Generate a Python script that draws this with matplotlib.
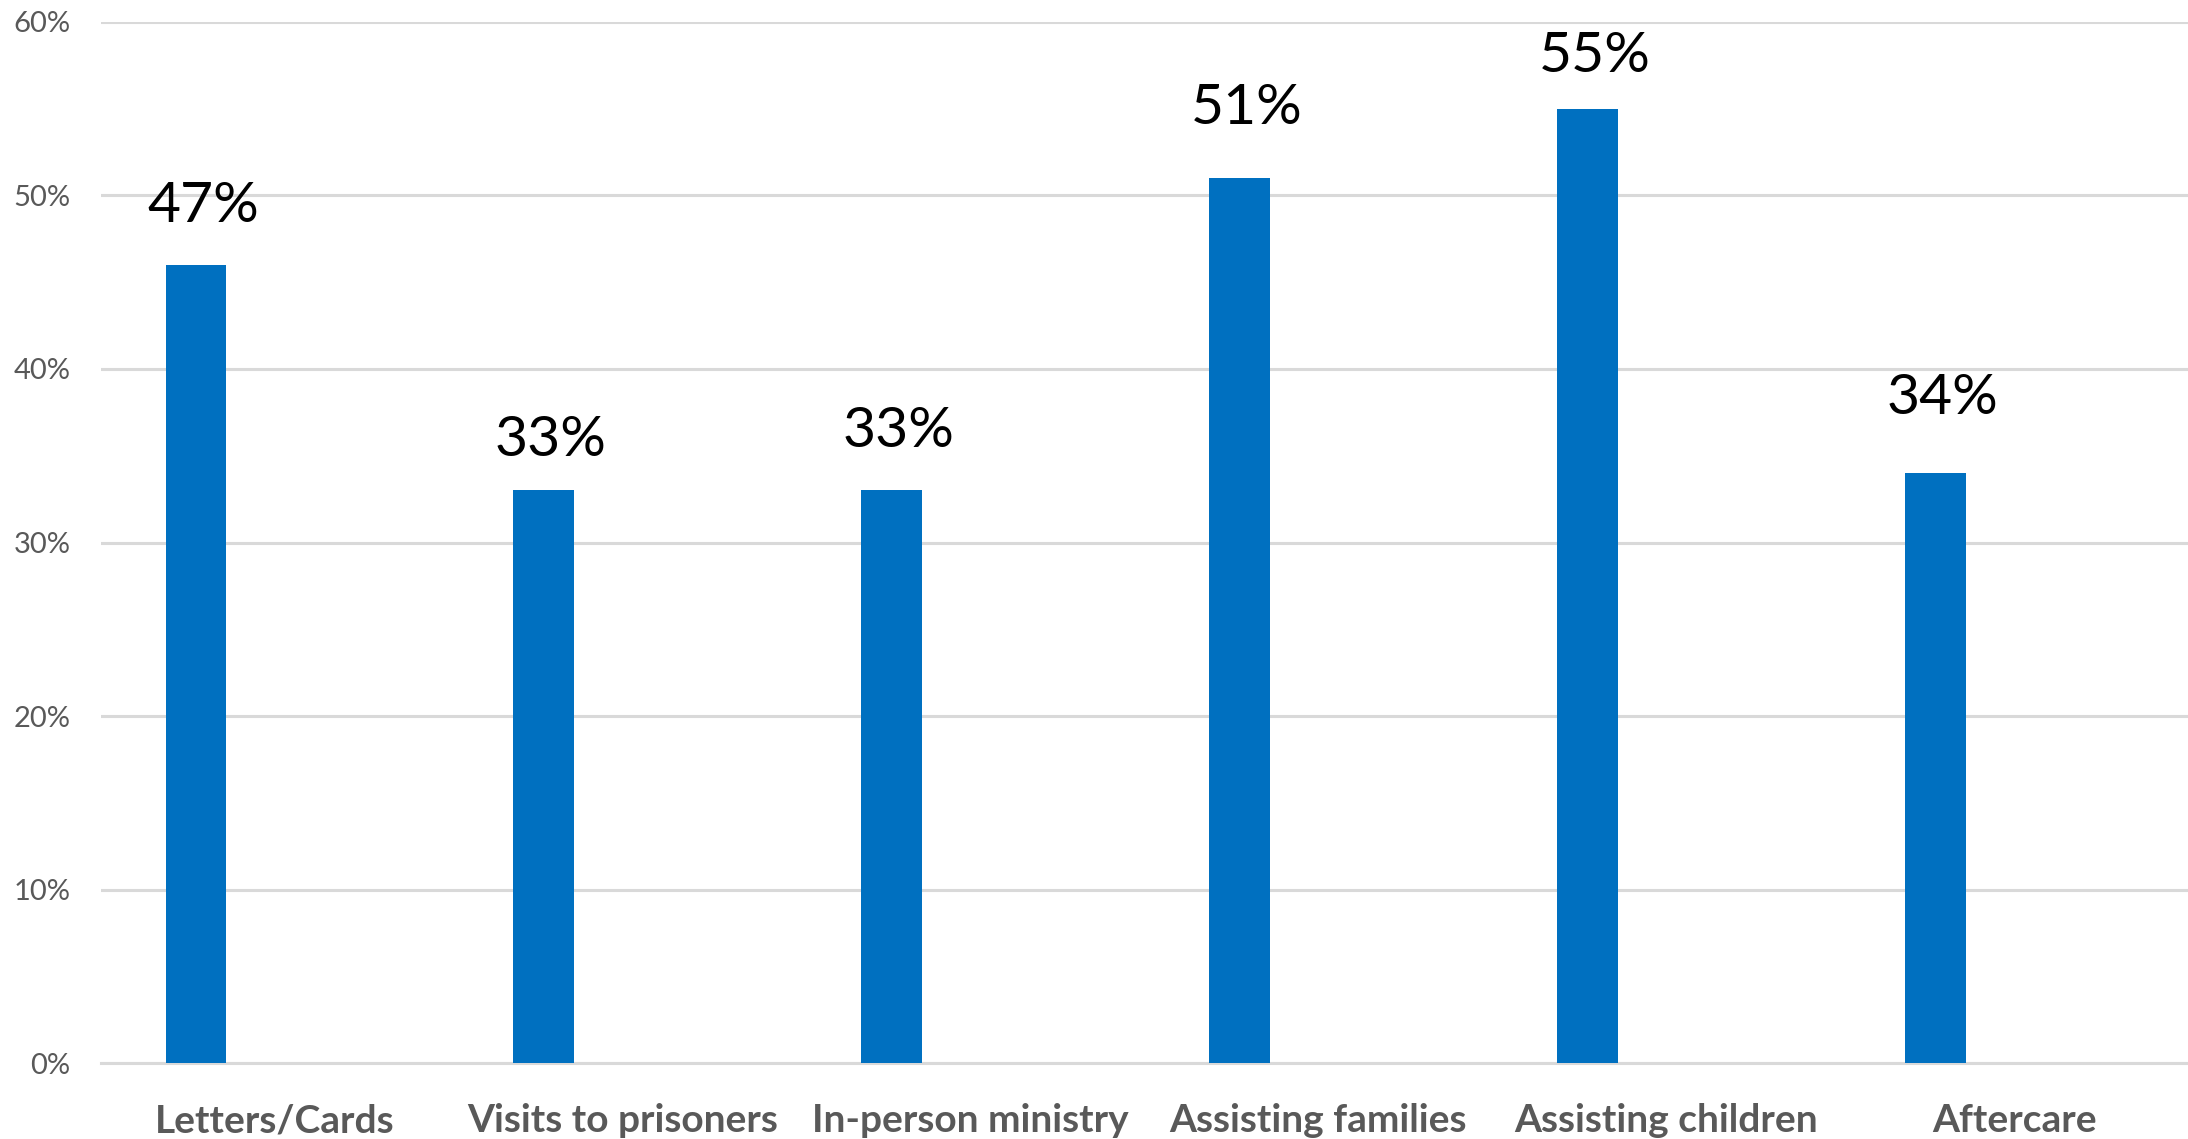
import numpy as np
import matplotlib
matplotlib.use("Agg")
import matplotlib.pyplot as plt
from matplotlib.ticker import FuncFormatter

categories = ['Letters/Cards', 'Visits to prisoners', 'In-person ministry',
              'Assisting families', 'Assisting children', 'Aftercare']
values = [46, 33, 33, 51, 55, 34]
labels = ['47%', '33%', '33%', '51%', '55%', '34%']
label_y = [48.5, 35.0, 35.5, 54.1, 57.1, 37.4]

plt.rcParams['font.family'] = ['Lato', 'DejaVu Sans']

fig = plt.figure(figsize=(21.88, 11.39), dpi=100)
ax = fig.add_axes([0.0462, 0.0667, 0.9538, 0.914])

x = np.arange(len(categories))
bar_off = -0.227
ax.bar(x + bar_off, values, width=0.175, color='#0070C0', zorder=3)

for i in range(len(categories)):
    ax.text(x[i] + bar_off + 0.02, label_y[i], labels[i], ha='center', va='baseline',
            fontsize=41, color='black')

ax.set_xlim(-0.5, len(categories) - 0.5)
ax.set_ylim(0, 60)
ax.set_yticks(range(0, 61, 10))
ax.yaxis.set_major_formatter(FuncFormatter(lambda v, p: '{:d}%'.format(int(v))))
ax.set_xticks(x)
ax.set_xticklabels(categories, fontsize=28, fontweight='bold', color='#595959')
ax.tick_params(axis='x', length=0, pad=29)
ax.tick_params(axis='y', length=0, pad=22, labelsize=21, labelcolor='#595959')

ax.grid(axis='y', color='#D9D9D9', linewidth=2.2, zorder=0)
for s in ['top', 'right', 'left']:
    ax.spines[s].set_visible(False)
ax.spines['bottom'].set_color('#D9D9D9')
ax.spines['bottom'].set_linewidth(2.2)

fig.savefig('out.png', dpi=100)
